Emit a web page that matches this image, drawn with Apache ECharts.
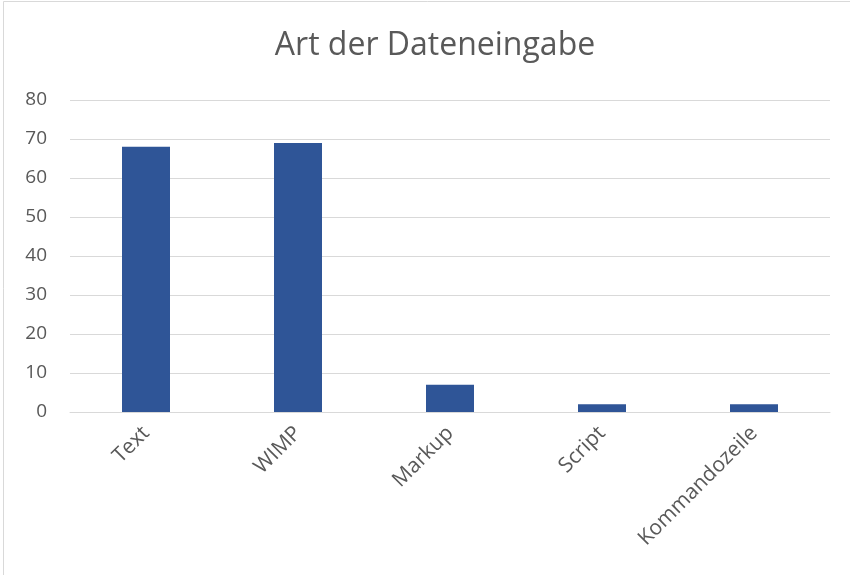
<!DOCTYPE html>
<html>
<head>
<meta charset="utf-8">
<script src="https://cdn.jsdelivr.net/npm/echarts@6/dist/echarts.min.js"></script>
<style>
  html, body { margin: 0; padding: 0; background: #fff; }
  #chart { width: 850px; height: 575px; }
</style>
</head>
<body>
<div id="chart"></div>
<script>
const titleText = 'Art der Dateneingabe';
const categories = ['Text', 'WIMP', 'Markup', 'Script', 'Kommandozeile'];
const values = [68, 69, 7, 2, 2];
const yTicks = { min: 0, max: 80, interval: 10 };

const fontFamily = '"Open Sans", "Noto Sans", sans-serif';
const textColor = '#595959';

const chart = echarts.init(document.getElementById('chart'), null, { renderer: 'canvas' });
chart.setOption({
  backgroundColor: '#ffffff',
  animation: false,
  graphic: [{
    type: 'rect',
    shape: { x: 3.5, y: 1.5, width: 1000, height: 1000 },
    style: { fill: 'none', stroke: '#d9d9d9', lineWidth: 1 },
    silent: true
  }],
  title: {
    text: titleText,
    left: 430,
    top: 25,
    textAlign: 'center',
    textStyle: { fontFamily, fontSize: 32, fontWeight: 'normal', color: textColor }
  },
  grid: { left: 70, right: 20, top: 100, bottom: 163, containLabel: false },
  xAxis: {
    type: 'category',
    data: categories,
    axisLine: { show: true, lineStyle: { color: '#d9d9d9', width: 1 } },
    axisTick: { show: false },
    axisLabel: {
      rotate: 45,
      margin: 18,
      interval: 0,
      fontFamily, fontSize: 21, color: textColor
    }
  },
  yAxis: {
    type: 'value',
    min: yTicks.min, max: yTicks.max, interval: yTicks.interval,
    axisLine: { show: false },
    axisTick: { show: false },
    splitLine: { lineStyle: { color: '#d9d9d9', width: 1 } },
    axisLabel: { margin: 23, fontFamily, fontSize: 19, color: textColor }
  },
  series: [{
    type: 'bar',
    data: values,
    barWidth: 48,
    itemStyle: { color: '#2f5597' }
  }]
});
</script>
</body>
</html>
